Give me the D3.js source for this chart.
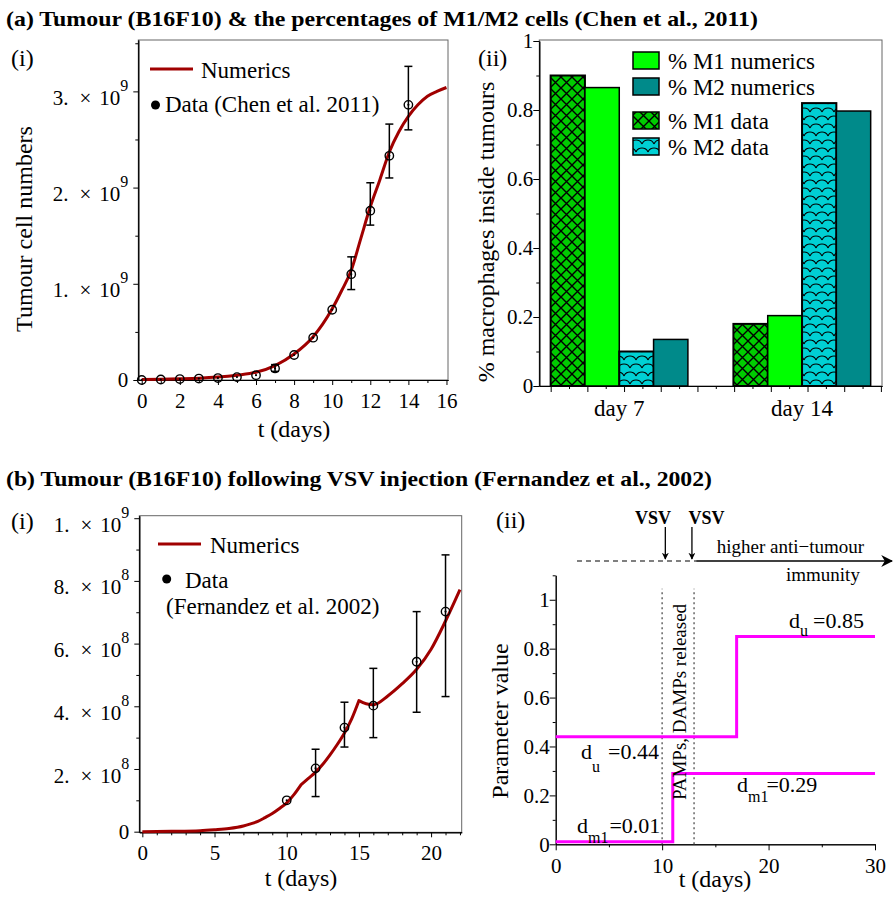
<!DOCTYPE html>
<html>
<head>
<meta charset="utf-8">
<script src="https://cdn.jsdelivr.net/npm/d3@7"></script>
<style>
  body { margin: 0; background: #fff; }
  svg text { font-family: "Liberation Serif", "Times New Roman", serif; fill: #000; }
</style>
</head>
<body>
<svg id="fig" width="893" height="898" font-family="Liberation Serif"></svg>
<script>
// ---- (a)(i) tumour growth, Chen et al. 2011 (values x1e9) ----
const chenDays = [0, 1, 2, 3, 4, 5, 6, 7, 8, 9, 10, 11, 12, 13, 14];
const chenData = [0.0, 0.005, 0.01, 0.015, 0.02, 0.03, 0.05, 0.12, 0.26, 0.44, 0.73, 1.1, 1.76, 2.33, 2.86];
const chenErrLo = [null, null, null, null, null, null, null, 0.09, null, null, null, 0.94, 1.61, 2.1, 2.6];
const chenErrHi = [null, null, null, null, null, null, null, 0.16, null, null, null, 1.28, 2.05, 2.66, 3.26];
const chenModelT = [0, 1, 2, 3, 4, 5, 6, 7, 8, 9, 9.5, 10, 10.5, 11, 11.5, 12, 12.5, 13, 13.5, 14, 14.5, 15, 15.5, 16];
const chenModelV = [0.005, 0.008, 0.012, 0.018, 0.03, 0.05, 0.08, 0.15, 0.27, 0.45, 0.58, 0.74, 0.93, 1.14, 1.47, 1.8, 2.08, 2.37, 2.58, 2.74, 2.86, 2.95, 3.0, 3.04];

// ---- (a)(ii) macrophage percentages ----
const dayLabels = ["day 7", "day 14"];
const barSeries = ["% M1 data", "% M1 numerics", "% M2 data", "% M2 numerics"];
const m1Data = [0.90, 0.18];
const m1Numerics = [0.865, 0.204];
const m2Data = [0.10, 0.82];
const m2Numerics = [0.135, 0.797];
const legendOrder = ["% M1 numerics", "% M2 numerics", "% M1 data", "% M2 data"];

// ---- (b)(i) tumour after VSV, Fernandez et al. 2002 (values x1e8) ----
const fernDays = [10, 12, 14, 16, 19, 21];
const fernData = [1.0, 2.02, 3.32, 4.02, 5.42, 7.02];
const fernErrLo = [null, 1.12, 2.7, 3.0, 3.81, 4.31];
const fernErrHi = [null, 2.63, 4.13, 5.21, 7.02, 8.83];
const fernModelT = [0, 2, 4, 5, 6, 7, 7.5, 8, 8.5, 9, 9.5, 10, 10.5, 11, 11.5, 12, 12.5, 13, 13.5, 14, 14.5, 15, 15.5, 16, 17, 18, 19, 20, 21, 22];
const fernModelV = [0, 0.01, 0.03, 0.06, 0.1, 0.18, 0.25, 0.33, 0.45, 0.58, 0.74, 0.92, 1.18, 1.5, 1.7, 1.9, 2.15, 2.45, 2.78, 3.15, 3.6, 4.18, 4.08, 4.05, 4.33, 4.72, 5.18, 5.82, 6.72, 7.72];
const fernKinks = [11, 15];

// ---- (b)(ii) parameter switches ----
const duT = [0, 17, 30];
const duV = [0.44, 0.85, 0.85];
const dm1T = [0, 11, 30];
const dm1V = [0.01, 0.29, 0.29];
const pampDays = [10, 13];
const vsvDays = [10.3, 12.8];

const FONT = "Liberation Serif";
const svg = d3.select("#fig");
const RED = "#a00000";

const defs = svg.append("defs");
const xh = defs.append("pattern").attr("id", "xhatch").attr("patternUnits", "userSpaceOnUse")
    .attr("width", 11).attr("height", 11);
xh.append("rect").attr("width", 11).attr("height", 11).attr("fill", "#00cc00");
xh.append("path").attr("d", "M0,0L11,11M11,0L0,11").attr("stroke", "#000").attr("stroke-width", 1.4);
const sc = defs.append("pattern").attr("id", "scales").attr("patternUnits", "userSpaceOnUse")
    .attr("width", 12).attr("height", 16);
sc.append("rect").attr("width", 12).attr("height", 16).attr("fill", "#00d0d4");
sc.append("path").attr("d", "M0,8A6.5,6.5 0 0,1 12,8M-6,16A6.5,6.5 0 0,1 6,16M6,16A6.5,6.5 0 0,1 18,16M-6,0A6.5,6.5 0 0,1 6,0M6,0A6.5,6.5 0 0,1 18,0")
    .attr("fill", "none").attr("stroke", "#000").attr("stroke-width", 1.1);
defs.append("marker").attr("id", "arr").attr("viewBox", "0 0 10 10").attr("refX", 9).attr("refY", 5)
    .attr("markerWidth", 7).attr("markerHeight", 7).attr("markerUnits", "userSpaceOnUse").attr("orient", "auto")
    .append("path").attr("d", "M0,0L10,5L0,10L3,5Z").attr("fill", "#000");
defs.append("marker").attr("id", "arrBig").attr("viewBox", "0 0 10 10").attr("refX", 9).attr("refY", 5)
    .attr("markerWidth", 14).attr("markerHeight", 12).attr("markerUnits", "userSpaceOnUse").attr("orient", "auto")
    .append("path").attr("d", "M0,0L10,5L0,10L3,5Z").attr("fill", "#000");

function axis(gen, transform, values, size, fmt) {
    const a = svg.append("g").attr("transform", transform)
        .call(gen.tickValues(values).tickSize(size).tickSizeOuter(0).tickPadding(8).tickFormat(fmt || (() => "")));
    a.attr("font-family", FONT).attr("font-size", 21);
    a.selectAll("line,path").attr("stroke", "#000");
    return a;
}

// mantissa "3. × 10" with raised exponent
function sciLabels(a, exp) {
    a.selectAll(".tick text").each(function (d) {
        const t = d3.select(this).text("");
        if (d === 0) { t.text("0"); return; }
        const m = Math.round(d / Math.pow(10, exp));
        let e = exp;
        let mm = m;
        if (m >= 10) { mm = m / 10; e = exp + 1; }
        t.attr("dy", "0.62em");
        t.append("tspan").text(mm + ".");
        t.append("tspan").attr("dx", 11).text("×");
        t.append("tspan").attr("dx", 8).text("10");
        t.append("tspan").attr("dy", -14).attr("font-size", 16).text(e);
    });
}

function box(x0, y0, x1, y1) {
    svg.append("rect").attr("x", x0).attr("y", y0).attr("width", x1 - x0).attr("height", y1 - y0)
        .attr("fill", "none").attr("stroke", "#666").attr("stroke-width", 1);
}

function label(x, y, txt, size, extra) {
    const t = svg.append("text").attr("x", x).attr("y", y).attr("font-size", size)
        .attr("font-family", FONT).text(txt);
    if (extra) extra(t);
    return t;
}

function errorBars(xs, ys, lo, hi, x, y, scale) {
    xs.forEach((d, i) => {
        if (lo[i] == null) return;
        const g = svg.append("g").attr("stroke", "#000").attr("stroke-width", 1.5);
        g.append("line").attr("x1", x(d)).attr("x2", x(d)).attr("y1", y(lo[i] * scale)).attr("y2", y(hi[i] * scale));
        [lo[i], hi[i]].forEach(v => g.append("line").attr("x1", x(d) - 4).attr("x2", x(d) + 4)
            .attr("y1", y(v * scale)).attr("y2", y(v * scale)));
    });
    xs.forEach((d, i) => {
        svg.append("circle").attr("cx", x(d)).attr("cy", y(ys[i] * scale)).attr("r", 4.2)
            .attr("fill", "none").attr("stroke", "#000").attr("stroke-width", 1.4);
        svg.append("circle").attr("cx", x(d)).attr("cy", y(ys[i] * scale)).attr("r", 1.1).attr("fill", "#000");
    });
}

// ---------- titles ----------
label(6, 26, "(a) Tumour (B16F10) & the percentages of  M1/M2 cells (Chen et al., 2011)", 22,
    t => t.attr("font-weight", "bold").attr("textLength", 752).attr("lengthAdjust", "spacingAndGlyphs"));
label(6, 486, "(b) Tumour (B16F10) following VSV injection (Fernandez et al., 2002)", 22,
    t => t.attr("font-weight", "bold").attr("textLength", 706).attr("lengthAdjust", "spacingAndGlyphs"));

// ---------- (a)(i) ----------
const xA1 = d3.scaleLinear().domain([-0.18, 16.08]).range([138.3, 448]);
const yA1 = d3.scaleLinear().domain([0, 3.534e9]).range([380, 40]);
box(138.3, 40, 448, 380);
axis(d3.axisBottom(xA1), "translate(0,380)", d3.range(1, 17, 2), 3);
axis(d3.axisBottom(xA1), "translate(0,380)", d3.range(0, 17, 2), 5, d => d);
axis(d3.axisLeft(yA1), "translate(138.3,0)", [0.5e9, 1.5e9, 2.5e9, 3.5e9], 3);
sciLabels(axis(d3.axisLeft(yA1), "translate(138.3,0)", [0, 1e9, 2e9, 3e9], 5, d => d).call(a => a.selectAll("text").attr("x", -10)), 9);

svg.append("path").datum(chenModelT.map((t, i) => [t, chenModelV[i]]))
    .attr("fill", "none").attr("stroke", RED).attr("stroke-width", 3)
    .attr("d", d3.line().x(d => xA1(d[0])).y(d => yA1(d[1] * 1e9)).curve(d3.curveMonotoneX));
errorBars(chenDays, chenData, chenErrLo, chenErrHi, xA1, yA1, 1e9);

svg.append("line").attr("x1", 150).attr("x2", 193).attr("y1", 69).attr("y2", 69).attr("stroke", RED).attr("stroke-width", 3);
label(201, 78, "Numerics", 23);
svg.append("circle").attr("cx", 155.5).attr("cy", 105).attr("r", 4.5).attr("fill", "#000");
label(165, 112, "Data (Chen et al. 2011)", 23);
label(11, 66, "(i)", 24);
label(294, 437, "t (days)", 24, t => t.attr("text-anchor", "middle"));
label(0, 0, "Tumour cell numbers", 24, t => t.attr("text-anchor", "middle").attr("transform", "translate(32,229) rotate(-90)"));

// ---------- (a)(ii) ----------
const yA2 = d3.scaleLinear().domain([0, 1]).range([386, 41]);
const xA2 = d3.scaleBand().domain(dayLabels).range([539.3, 882]).paddingInner(0.249).paddingOuter(0.062);
const xA2in = d3.scaleBand().domain(barSeries).range([0, xA2.bandwidth()]);
const xA2ticks = d3.scaleLinear().domain([-0.31, 9.03]).range([539.3, 882]);
const barValues = { "% M1 data": m1Data, "% M1 numerics": m1Numerics, "% M2 data": m2Data, "% M2 numerics": m2Numerics };
const barFill = { "% M1 data": "url(#xhatch)", "% M1 numerics": "#00ff00", "% M2 data": "url(#scales)", "% M2 numerics": "#008a8a" };
box(539.3, 40, 882, 386);

const bars = [];
dayLabels.forEach((day, i) => barSeries.forEach(s => bars.push({ day, s, v: barValues[s][i] })));
svg.append("g").selectAll("rect").data(bars).join("rect")
    .attr("x", d => xA2(d.day) + xA2in(d.s))
    .attr("width", xA2in.bandwidth())
    .attr("y", d => yA2(d.v))
    .attr("height", d => yA2(0) - yA2(d.v))
    .attr("fill", d => barFill[d.s])
    .attr("stroke", "#000").attr("stroke-width", d => d.s.endsWith("data") ? 2 : 1.5);

axis(d3.axisBottom(xA2ticks), "translate(0,386)", d3.range(0.5, 9, 1), 3);
axis(d3.axisBottom(xA2ticks), "translate(0,386)", d3.range(0, 9.5, 1), 6);
const dayAxis = svg.append("g").attr("transform", "translate(0,386)")
    .call(d3.axisBottom(xA2).tickSize(0).tickPadding(14));
dayAxis.attr("font-family", FONT).attr("font-size", 23);
dayAxis.select(".domain").remove();
axis(d3.axisLeft(yA2), "translate(539.3,0)", d3.range(0.1, 1, 0.2), 3);
axis(d3.axisLeft(yA2), "translate(539.3,0)", d3.range(0, 1.01, 0.2), 6, d => +d.toFixed(1))
    .selectAll("text").attr("x", -6);

legendOrder.forEach((s, i) => {
    const y0 = [52, 78, 112, 138][i];
    svg.append("rect").attr("x", 633).attr("y", y0).attr("width", 26).attr("height", 17)
        .attr("fill", barFill[s]).attr("stroke", "#000").attr("stroke-width", 1.5);
    label(668, y0 + 16.5, s, 23);
});
label(478, 66, "(ii)", 24);
label(0, 0, "% macrophages inside tumours", 24, t => t.attr("text-anchor", "middle").attr("transform", "translate(494,232) rotate(-90)"));

// ---------- (b)(i) ----------
const xB1 = d3.scaleLinear().domain([-0.21, 22.12]).range([139.3, 461.7]);
const yB1 = d3.scaleLinear().domain([-0.002e9, 1.008e9]).range([832.3, 515.7]);
box(139.3, 515.7, 461.7, 832.3);
axis(d3.axisBottom(xB1), "translate(0,832.3)", d3.range(0, 23, 1).filter(d => d % 5), 3);
axis(d3.axisBottom(xB1), "translate(0,832.3)", [0, 5, 10, 15, 20], 5, d => d);
axis(d3.axisLeft(yB1), "translate(139.3,0)", [1e8, 3e8, 5e8, 7e8, 9e8], 3);
sciLabels(axis(d3.axisLeft(yB1), "translate(139.3,0)", [0, 2e8, 4e8, 6e8, 8e8, 1e9], 5, d => d).call(a => a.selectAll("text").attr("x", -10)), 8);

// model curve split at the kinks of the treatment
const fernPts = fernModelT.map((t, i) => [t, fernModelV[i]]);
const edges = [fernModelT[0], ...fernKinks, fernModelT[fernModelT.length - 1]];
const fernLine = d3.line().x(d => xB1(d[0])).y(d => yB1(d[1] * 1e8)).curve(d3.curveMonotoneX);
let dPath = "";
for (let k = 0; k < edges.length - 1; k++) {
    const seg = fernPts.filter(p => p[0] >= edges[k] && p[0] <= edges[k + 1]);
    const s = fernLine(seg);
    dPath += k === 0 ? s : "L" + s.slice(1);
}
svg.append("path").attr("d", dPath).attr("fill", "none").attr("stroke", RED).attr("stroke-width", 3)
    .attr("stroke-linejoin", "round");
errorBars(fernDays, fernData, fernErrLo, fernErrHi, xB1, yB1, 1e8);

svg.append("line").attr("x1", 158).attr("x2", 201).attr("y1", 544).attr("y2", 544).attr("stroke", RED).attr("stroke-width", 3);
label(210, 553, "Numerics", 23);
svg.append("circle").attr("cx", 166.7).attr("cy", 579).attr("r", 4.5).attr("fill", "#000");
label(185, 587.5, "Data", 23);
label(166, 613.5, "(Fernandez et al. 2002)", 23);
label(11, 529, "(i)", 24);
label(301, 885.5, "t (days)", 24, t => t.attr("text-anchor", "middle"));

// ---------- (b)(ii) ----------
const xB2 = d3.scaleLinear().domain([0, 30]).range([555.7, 875]);
const yB2 = d3.scaleLinear().domain([0, 1.1]).range([844.3, 575.3]);
axis(d3.axisBottom(xB2), "translate(0,844.3)", [5, 15, 25], 3);
axis(d3.axisBottom(xB2), "translate(0,844.3)", [0, 10, 20, 30], 6, d => d);
axis(d3.axisLeft(yB2), "translate(555.7,0)", [0.1, 0.3, 0.5, 0.7, 0.9, 1.1], 3);
axis(d3.axisLeft(yB2), "translate(555.7,0)", d3.range(0, 1.01, 0.2), 6, d => +d.toFixed(1))
    .selectAll("text").attr("x", -6);

pampDays.forEach(t => svg.append("line").attr("x1", xB2(t)).attr("x2", xB2(t))
    .attr("y1", yB2(0)).attr("y2", yB2(1.045)).attr("stroke", "#666").attr("stroke-width", 1.5)
    .attr("stroke-dasharray", "2,3"));

const stepLine = d3.line().x(d => xB2(d[0])).y(d => yB2(d[1])).curve(d3.curveStepAfter);
[[duT, duV], [dm1T, dm1V]].forEach(([ts, vs]) => svg.append("path")
    .attr("d", stepLine(ts.map((t, i) => [t, vs[i]])))
    .attr("fill", "none").attr("stroke", "#ff00ff").attr("stroke-width", 3));

label(0, 0, "PAMPs, DAMPs released", 19, t => t.attr("text-anchor", "middle").attr("transform", "translate(686,702) rotate(-90)"));

function dLabel(x, y, sub, val, subDy, gap) {
    const t = svg.append("text").attr("x", x).attr("y", y).attr("font-size", 22).attr("font-family", FONT);
    t.append("tspan").text("d");
    t.append("tspan").attr("dy", subDy).attr("font-size", 16).text(sub);
    t.append("tspan").attr("dy", -subDy).attr("dx", gap).text("=" + val);
}
dLabel(789, 628, "u", duV[1].toFixed(2), 8, 5);
dLabel(581, 759, "u", duV[0].toFixed(2), 13, 8);
dLabel(737, 792, "m1", dm1V[1].toFixed(2), 10, -2);
dLabel(577, 833, "m1", dm1V[0].toFixed(2), 10, 1);

// treatment timeline
svg.append("line").attr("x1", xB2(2)).attr("x2", xB2(13.2)).attr("y1", 561).attr("y2", 561)
    .attr("stroke", "#000").attr("stroke-width", 1.2).attr("stroke-dasharray", "5,4");
svg.append("line").attr("x1", xB2(13.2)).attr("x2", xB2(31.6)).attr("y1", 561).attr("y2", 561)
    .attr("stroke", "#000").attr("stroke-width", 1.5).attr("marker-end", "url(#arrBig)");
vsvDays.forEach((t, i) => {
    svg.append("line").attr("x1", xB2(t)).attr("x2", xB2(t)).attr("y1", 527).attr("y2", 559)
        .attr("stroke", "#000").attr("stroke-width", 1.3).attr("marker-end", "url(#arr)");
    label([653, 706.5][i], 524, "VSV", 18, l => l.attr("font-weight", "bold").attr("text-anchor", "middle"));
});
label(716.7, 553.3, "higher anti\u2212tumour", 19);
label(786, 580.7, "immunity", 19);

label(496, 528, "(ii)", 24);
label(715, 887, "t (days)", 24, t => t.attr("text-anchor", "middle"));
label(0, 0, "Parameter value", 24, t => t.attr("text-anchor", "middle").attr("transform", "translate(508,721) rotate(-90)"));

svg.selectAll("text").attr("font-family", FONT);
</script>
</body>
</html>
